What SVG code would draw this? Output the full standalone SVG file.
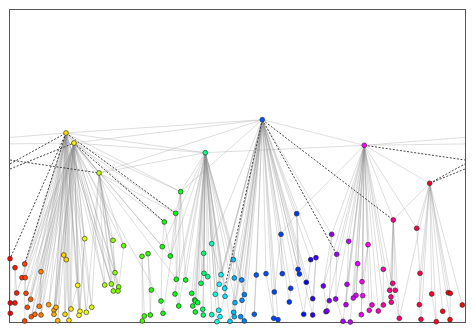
<svg xmlns="http://www.w3.org/2000/svg" width="475" height="332" viewBox="0 0 475 332">
<style>
.e line{stroke:#8c8c8c;stroke-opacity:.42;stroke-width:.7;fill:none}
.d line{stroke:#333;stroke-width:.9;stroke-dasharray:2 1.6;fill:none}
.n circle{stroke:#222;stroke-width:.6}
</style>
<rect x="0" y="0" width="475" height="332" fill="#fff"/>
<rect x="9.5" y="9.5" width="456" height="313" fill="none" stroke="#555" stroke-width="1"/>
<g id="connectors">
<g class="e">
<line x1="66" y1="133" x2="262.3" y2="119.7"/>
<line x1="74" y1="143" x2="262.3" y2="119.7"/>
<line x1="66" y1="133" x2="205.3" y2="152.7"/>
<line x1="74" y1="143" x2="205.3" y2="152.7"/>
<line x1="99" y1="173" x2="205.3" y2="152.7"/>
<line x1="99" y1="173" x2="262.3" y2="119.7"/>
<line x1="205.3" y1="152.7" x2="364.3" y2="145.3"/>
<line x1="262.3" y1="119.7" x2="364.3" y2="145.3"/>
<line x1="364.3" y1="145.3" x2="429.7" y2="183.3"/>
<line x1="10" y1="137.4" x2="66" y2="133"/>
<line x1="364.3" y1="145.3" x2="465" y2="137.4"/>
<line x1="10" y1="143.9" x2="74" y2="143"/>
<line x1="364.3" y1="145.3" x2="465" y2="143.9"/>
<line x1="66" y1="133" x2="180.7" y2="191.7"/>
<line x1="74" y1="143" x2="180.7" y2="191.7"/>
<line x1="180.7" y1="191.7" x2="262.3" y2="119.7"/>
<line x1="180.7" y1="191.7" x2="205.3" y2="152.7"/>
<line x1="66" y1="133" x2="99" y2="173"/>
<line x1="74" y1="143" x2="99" y2="173"/>
<!-- left fan -->
<line x1="66" y1="133" x2="24.7" y2="264"/><line x1="74" y1="143" x2="24.7" y2="264"/>
<line x1="66" y1="133" x2="22" y2="277.7"/><line x1="74" y1="143" x2="22" y2="277.7"/>
<line x1="66" y1="133" x2="25.3" y2="277.7"/><line x1="74" y1="143" x2="25.3" y2="277.7"/>
<line x1="66" y1="133" x2="41" y2="271.7"/><line x1="74" y1="143" x2="41" y2="271.7"/>
<line x1="66" y1="133" x2="63.7" y2="255"/><line x1="74" y1="143" x2="63.7" y2="255"/>
<line x1="66" y1="133" x2="66.3" y2="259.7"/><line x1="74" y1="143" x2="66.3" y2="259.7"/>
<line x1="66" y1="133" x2="26" y2="293.3"/><line x1="74" y1="143" x2="26" y2="293.3"/>
<line x1="66" y1="133" x2="30.7" y2="299.3"/><line x1="74" y1="143" x2="30.7" y2="299.3"/>
<line x1="66" y1="133" x2="27.3" y2="307.3"/><line x1="74" y1="143" x2="27.3" y2="307.3"/>
<line x1="66" y1="133" x2="39.3" y2="306.3"/><line x1="74" y1="143" x2="39.3" y2="306.3"/>
<line x1="66" y1="133" x2="48.7" y2="304.7"/><line x1="74" y1="143" x2="48.7" y2="304.7"/>
<line x1="66" y1="133" x2="54" y2="310"/><line x1="74" y1="143" x2="54" y2="310"/>
<line x1="66" y1="133" x2="56" y2="307.3"/><line x1="74" y1="143" x2="56" y2="307.3"/>
<line x1="66" y1="133" x2="77.7" y2="285.3"/><line x1="74" y1="143" x2="77.7" y2="285.3"/>
<line x1="66" y1="133" x2="31.3" y2="316.7"/><line x1="74" y1="143" x2="31.3" y2="316.7"/>
<line x1="66" y1="133" x2="35" y2="314.3"/><line x1="74" y1="143" x2="35" y2="314.3"/>
<line x1="66" y1="133" x2="41" y2="315"/><line x1="74" y1="143" x2="41" y2="315"/>
<line x1="66" y1="133" x2="54" y2="314.3"/><line x1="74" y1="143" x2="54" y2="314.3"/>
<line x1="66" y1="133" x2="65" y2="314.3"/><line x1="74" y1="143" x2="65" y2="314.3"/>
<line x1="66" y1="133" x2="71" y2="309"/><line x1="74" y1="143" x2="71" y2="309"/>
<line x1="66" y1="133" x2="80" y2="311.3"/><line x1="74" y1="143" x2="80" y2="311.3"/>
<line x1="66" y1="133" x2="79" y2="315.3"/><line x1="74" y1="143" x2="79" y2="315.3"/>
<line x1="66" y1="133" x2="86.3" y2="312.3"/><line x1="74" y1="143" x2="86.3" y2="312.3"/>
<line x1="66" y1="133" x2="91.7" y2="307.3"/><line x1="74" y1="143" x2="91.7" y2="307.3"/>
<line x1="66" y1="133" x2="57.7" y2="320.7"/><line x1="74" y1="143" x2="57.7" y2="320.7"/>
<line x1="66" y1="133" x2="69" y2="320.3"/><line x1="74" y1="143" x2="69" y2="320.3"/>
<line x1="66" y1="133" x2="84.7" y2="238.7"/><line x1="74" y1="143" x2="84.7" y2="238.7"/>
<line x1="10" y1="258.7" x2="10.3" y2="303"/><line x1="10.3" y1="303" x2="10.3" y2="313.3"/>
<line x1="15" y1="267.7" x2="15" y2="303"/><line x1="15" y1="267.7" x2="16.7" y2="293"/>
<line x1="24.7" y1="264" x2="24.7" y2="321"/><line x1="22" y1="277.7" x2="16.7" y2="293"/>
<line x1="25.3" y1="277.7" x2="26" y2="293.3"/><line x1="41" y1="271.7" x2="41" y2="315"/>
<line x1="41" y1="271.7" x2="39.3" y2="306.3"/><line x1="63.7" y1="255" x2="65" y2="314.3"/>
<line x1="66.3" y1="259.7" x2="69" y2="320.3"/><line x1="84.7" y1="238.7" x2="80" y2="311.3"/>
<line x1="84.7" y1="238.7" x2="79" y2="315.3"/><line x1="77.7" y1="285.3" x2="71" y2="309"/>
<!-- C fan -->
<line x1="99" y1="173" x2="113" y2="240.3"/><line x1="74" y1="143" x2="113" y2="240.3"/>
<line x1="99" y1="173" x2="123.7" y2="245.7"/><line x1="74" y1="143" x2="123.7" y2="245.7"/>
<line x1="99" y1="173" x2="115" y2="272.7"/><line x1="74" y1="143" x2="115" y2="272.7"/>
<line x1="99" y1="173" x2="104.7" y2="285"/><line x1="74" y1="143" x2="104.7" y2="285"/>
<line x1="99" y1="173" x2="111.3" y2="284"/><line x1="74" y1="143" x2="111.3" y2="284"/>
<line x1="99" y1="173" x2="118.7" y2="287"/><line x1="74" y1="143" x2="118.7" y2="287"/>
<line x1="99" y1="173" x2="113.3" y2="291"/><line x1="66" y1="133" x2="113.3" y2="291"/>
<line x1="99" y1="173" x2="118" y2="291"/><line x1="66" y1="133" x2="118" y2="291"/>
<line x1="99" y1="173" x2="86.3" y2="312.3"/><line x1="99" y1="173" x2="91.7" y2="307.3"/>
<line x1="66" y1="133" x2="111.3" y2="284"/><line x1="66" y1="133" x2="104.7" y2="285"/>
<line x1="113" y1="240.3" x2="115" y2="272.7"/><line x1="123.7" y1="245.7" x2="118.7" y2="287"/>
<line x1="115" y1="272.7" x2="113.3" y2="291"/>
<!-- green small cluster -->
<line x1="142" y1="256.3" x2="142.3" y2="321"/><line x1="142" y1="256.3" x2="144.3" y2="316"/>
<line x1="148" y1="253.7" x2="151.3" y2="290"/><line x1="151.3" y1="290" x2="150.3" y2="315"/>
<line x1="148" y1="253.7" x2="150.3" y2="315"/>
<!-- green under 49 -->
<line x1="180.7" y1="191.7" x2="175.7" y2="213.3"/>
<line x1="74" y1="143" x2="175.7" y2="213.3"/><line x1="66" y1="133" x2="164.3" y2="222"/>
<line x1="99" y1="173" x2="175.7" y2="213.3"/><line x1="99" y1="173" x2="164.3" y2="222"/>
<line x1="74" y1="143" x2="162.3" y2="246.7"/><line x1="66" y1="133" x2="170.3" y2="256"/>
<line x1="74" y1="143" x2="176.3" y2="279.3"/><line x1="66" y1="133" x2="161" y2="301"/>
<line x1="164.3" y1="222" x2="162.3" y2="246.7"/><line x1="162.3" y1="246.7" x2="161" y2="301"/>
<line x1="161" y1="301" x2="163" y2="313.3"/><line x1="175.7" y1="213.3" x2="170.3" y2="256"/>
<line x1="175.7" y1="213.3" x2="176.3" y2="279.3"/><line x1="176.3" y1="279.3" x2="175" y2="294"/>
<line x1="175" y1="294" x2="178.7" y2="306"/><line x1="180.7" y1="191.7" x2="185.7" y2="280"/>
<line x1="180.7" y1="191.7" x2="176.3" y2="279.3"/><line x1="164.3" y1="222" x2="170.3" y2="256"/>
<line x1="180.7" y1="191.7" x2="163" y2="313.3"/><line x1="180.7" y1="191.7" x2="178.7" y2="306"/>
<!-- D fan -->
<line x1="205.3" y1="152.7" x2="176.3" y2="279.3"/><line x1="205.3" y1="152.7" x2="185.7" y2="280"/>
<line x1="205.3" y1="152.7" x2="175" y2="294"/><line x1="205.3" y1="152.7" x2="178.7" y2="306"/>
<line x1="205.3" y1="152.7" x2="191.7" y2="293.3"/><line x1="205.3" y1="152.7" x2="194.7" y2="300"/>
<line x1="205.3" y1="152.7" x2="195.3" y2="301"/><line x1="205.3" y1="152.7" x2="197.7" y2="302.7"/>
<line x1="205.3" y1="152.7" x2="192.7" y2="306"/><line x1="205.3" y1="152.7" x2="195.3" y2="312"/>
<line x1="205.3" y1="152.7" x2="162.3" y2="246.7"/><line x1="205.3" y1="152.7" x2="170.3" y2="256"/>
<line x1="205.3" y1="152.7" x2="203.7" y2="253.3"/><line x1="205.3" y1="152.7" x2="211.7" y2="243.7"/>
<line x1="205.3" y1="152.7" x2="204" y2="273.3"/><line x1="205.3" y1="152.7" x2="207.7" y2="276.7"/>
<line x1="205.3" y1="152.7" x2="201" y2="283.3"/><line x1="205.3" y1="152.7" x2="202.7" y2="309.3"/>
<line x1="205.3" y1="152.7" x2="203.3" y2="315"/><line x1="205.3" y1="152.7" x2="211.7" y2="314.7"/>
<line x1="205.3" y1="152.7" x2="215.3" y2="294.3"/><line x1="205.3" y1="152.7" x2="219.3" y2="284.3"/>
<line x1="205.3" y1="152.7" x2="221" y2="274.7"/><line x1="205.3" y1="152.7" x2="224.7" y2="288.3"/>
<line x1="205.3" y1="152.7" x2="225" y2="296.3"/><line x1="205.3" y1="152.7" x2="218.7" y2="310.3"/>
<line x1="205.3" y1="152.7" x2="220" y2="316.7"/><line x1="205.3" y1="152.7" x2="217" y2="321.7"/>
<line x1="205.3" y1="152.7" x2="230" y2="321.3"/><line x1="205.3" y1="152.7" x2="233.3" y2="259.7"/>
<line x1="205.3" y1="152.7" x2="234.3" y2="278"/><line x1="205.3" y1="152.7" x2="235" y2="302.7"/>
<line x1="205.3" y1="152.7" x2="241.7" y2="280"/><line x1="205.3" y1="152.7" x2="244.3" y2="294.7"/>
<line x1="203.7" y1="253.3" x2="204" y2="273.3"/><line x1="211.7" y1="243.7" x2="221" y2="274.7"/>
<line x1="203.7" y1="253.3" x2="201" y2="283.3"/>
<!-- E fan -->
<line x1="262.3" y1="119.7" x2="221" y2="274.7"/><line x1="262.3" y1="119.7" x2="219.3" y2="284.3"/>
<line x1="262.3" y1="119.7" x2="225" y2="296.3"/><line x1="262.3" y1="119.7" x2="220" y2="316.7"/>
<line x1="262.3" y1="119.7" x2="211.7" y2="243.7"/><line x1="262.3" y1="119.7" x2="215.3" y2="294.3"/>
<line x1="262.3" y1="119.7" x2="230" y2="321.3"/><line x1="262.3" y1="119.7" x2="233.3" y2="259.7"/>
<line x1="262.3" y1="119.7" x2="234.3" y2="278"/><line x1="262.3" y1="119.7" x2="241.7" y2="280"/>
<line x1="262.3" y1="119.7" x2="244.3" y2="294.7"/><line x1="262.3" y1="119.7" x2="242" y2="300.3"/>
<line x1="262.3" y1="119.7" x2="235" y2="302.7"/><line x1="262.3" y1="119.7" x2="233.7" y2="312.3"/>
<line x1="262.3" y1="119.7" x2="234.3" y2="316.7"/><line x1="262.3" y1="119.7" x2="240.7" y2="316.7"/>
<line x1="262.3" y1="119.7" x2="244.3" y2="321"/><line x1="262.3" y1="119.7" x2="254.3" y2="314.3"/>
<line x1="262.3" y1="119.7" x2="256.3" y2="275"/><line x1="262.3" y1="119.7" x2="266" y2="273.7"/>
<line x1="262.3" y1="119.7" x2="281" y2="234.3"/><line x1="262.3" y1="119.7" x2="282.3" y2="273.7"/>
<line x1="262.3" y1="119.7" x2="274.3" y2="292"/><line x1="262.3" y1="119.7" x2="273.7" y2="318.3"/>
<line x1="262.3" y1="119.7" x2="278" y2="319.7"/><line x1="262.3" y1="119.7" x2="298" y2="269.3"/>
<line x1="262.3" y1="119.7" x2="299.3" y2="274"/><line x1="262.3" y1="119.7" x2="290.7" y2="288.3"/>
<line x1="262.3" y1="119.7" x2="289.3" y2="302"/><line x1="262.3" y1="119.7" x2="306.3" y2="282.3"/>
<line x1="262.3" y1="119.7" x2="310.7" y2="259.7"/><line x1="262.3" y1="119.7" x2="316" y2="257.7"/>
<line x1="262.3" y1="119.7" x2="312.7" y2="298.7"/><line x1="262.3" y1="119.7" x2="303.7" y2="314.3"/>
<line x1="262.3" y1="119.7" x2="312.7" y2="315"/><line x1="262.3" y1="119.7" x2="331.7" y2="234.3"/>
<line x1="262.3" y1="119.7" x2="296.7" y2="213.7"/>
<line x1="233.3" y1="259.7" x2="234.3" y2="278"/><line x1="234.3" y1="278" x2="233.7" y2="312.3"/>
<line x1="241.7" y1="280" x2="244.3" y2="294.7"/><line x1="281" y1="234.3" x2="296.7" y2="213.7"/>
<line x1="296.7" y1="213.7" x2="364.3" y2="145.3"/><line x1="281" y1="234.3" x2="282.3" y2="273.7"/>
<line x1="281" y1="234.3" x2="274.3" y2="292"/><line x1="296.7" y1="213.7" x2="298" y2="269.3"/>
<line x1="296.7" y1="213.7" x2="299.3" y2="274"/><line x1="256.3" y1="275" x2="254.3" y2="314.3"/>
<line x1="266" y1="273.7" x2="273.7" y2="318.3"/><line x1="310.7" y1="259.7" x2="303.7" y2="314.3"/>
<line x1="316" y1="257.7" x2="312.7" y2="298.7"/><line x1="316" y1="257.7" x2="312.7" y2="315"/>
<line x1="290.7" y1="288.3" x2="289.3" y2="302"/>
<!-- F fan -->
<line x1="364.3" y1="145.3" x2="331.7" y2="234.3"/><line x1="364.3" y1="145.3" x2="348.7" y2="241.3"/>
<line x1="364.3" y1="145.3" x2="336.7" y2="254.3"/><line x1="364.3" y1="145.3" x2="323.3" y2="286"/>
<line x1="364.3" y1="145.3" x2="335.7" y2="299"/><line x1="364.3" y1="145.3" x2="326" y2="311.7"/>
<line x1="364.3" y1="145.3" x2="343" y2="321.3"/><line x1="364.3" y1="145.3" x2="350.3" y2="322"/>
<line x1="364.3" y1="145.3" x2="368" y2="244.7"/><line x1="364.3" y1="145.3" x2="357.7" y2="263.7"/>
<line x1="364.3" y1="145.3" x2="347" y2="284.3"/><line x1="364.3" y1="145.3" x2="362" y2="281.7"/>
<line x1="364.3" y1="145.3" x2="356" y2="295.3"/><line x1="364.3" y1="145.3" x2="353.3" y2="298"/>
<line x1="364.3" y1="145.3" x2="362.7" y2="295.7"/><line x1="364.3" y1="145.3" x2="346" y2="304.7"/>
<line x1="364.3" y1="145.3" x2="372" y2="305"/><line x1="364.3" y1="145.3" x2="369.3" y2="310.3"/>
<line x1="364.3" y1="145.3" x2="378.3" y2="311"/><line x1="364.3" y1="145.3" x2="383.3" y2="305"/>
<line x1="364.3" y1="145.3" x2="383.3" y2="269.3"/><line x1="364.3" y1="145.3" x2="361.3" y2="314.7"/>
<line x1="364.3" y1="145.3" x2="393.3" y2="220"/><line x1="364.3" y1="145.3" x2="416.7" y2="228.3"/>
<line x1="364.3" y1="145.3" x2="399.3" y2="318.3"/><line x1="364.3" y1="145.3" x2="391.3" y2="302.3"/>
<line x1="331.7" y1="234.3" x2="323.3" y2="286"/><line x1="331.7" y1="234.3" x2="329.3" y2="300.7"/>
<line x1="323.3" y1="286" x2="327" y2="311"/><line x1="348.7" y1="241.3" x2="347" y2="284.3"/>
<line x1="347" y1="284.3" x2="346" y2="304.7"/><line x1="336.7" y1="254.3" x2="335.7" y2="299"/>
<line x1="335.7" y1="299" x2="343" y2="321.3"/><line x1="368" y1="244.7" x2="362" y2="281.7"/>
<line x1="368" y1="244.7" x2="362.7" y2="295.7"/><line x1="357.7" y1="263.7" x2="356" y2="295.3"/>
<line x1="357.7" y1="263.7" x2="353.3" y2="298"/><line x1="383.3" y1="269.3" x2="383.3" y2="305"/>
<line x1="362" y1="281.7" x2="361.3" y2="314.7"/>
<!-- pink + G fan -->
<line x1="429.7" y1="183.3" x2="393.3" y2="220"/>
<line x1="393.3" y1="220" x2="392.7" y2="283.3"/><line x1="393.3" y1="220" x2="389.7" y2="290.3"/>
<line x1="393.3" y1="220" x2="395.3" y2="290.3"/><line x1="393.3" y1="220" x2="391" y2="297"/>
<line x1="393.3" y1="220" x2="391.3" y2="302.3"/><line x1="393.3" y1="220" x2="399.3" y2="318.3"/>
<line x1="429.7" y1="183.3" x2="416.7" y2="228.3"/><line x1="429.7" y1="183.3" x2="420" y2="273.3"/>
<line x1="429.7" y1="183.3" x2="419.3" y2="304.7"/><line x1="429.7" y1="183.3" x2="421" y2="319.3"/>
<line x1="429.7" y1="183.3" x2="431.7" y2="294"/><line x1="429.7" y1="183.3" x2="436.3" y2="321.7"/>
<line x1="429.7" y1="183.3" x2="448.3" y2="292.7"/><line x1="429.7" y1="183.3" x2="450.3" y2="293.3"/>
<line x1="429.7" y1="183.3" x2="442.7" y2="311.3"/><line x1="429.7" y1="183.3" x2="450" y2="319.7"/>
<line x1="429.7" y1="183.3" x2="462.3" y2="305"/><line x1="429.7" y1="183.3" x2="399.3" y2="318.3"/>
<line x1="416.7" y1="228.3" x2="420" y2="273.3"/><line x1="420" y1="273.3" x2="419.3" y2="304.7"/>
<line x1="419.3" y1="304.7" x2="421" y2="319.3"/><line x1="431.7" y1="294" x2="436.3" y2="321.7"/>
<line x1="450.3" y1="293.3" x2="450" y2="319.7"/>
</g>
<g class="d">
<line x1="10" y1="163.9" x2="66" y2="133"/>
<line x1="429.7" y1="183.3" x2="465" y2="163.9"/>
<line x1="10" y1="169" x2="74" y2="143"/>
<line x1="429.7" y1="183.3" x2="465" y2="169"/>
<line x1="10" y1="160" x2="99" y2="173"/>
<line x1="364.3" y1="145.3" x2="465" y2="160"/>
<line x1="66" y1="133" x2="10" y2="258.7"/>
<line x1="66" y1="133" x2="24.7" y2="264"/>
<line x1="74" y1="143" x2="164.3" y2="222"/>
<line x1="66" y1="133" x2="175.7" y2="213.3"/>
<line x1="262.3" y1="119.7" x2="224.7" y2="288.3"/>
<line x1="262.3" y1="119.7" x2="393.3" y2="220"/>
<line x1="262.3" y1="119.7" x2="336.7" y2="254.3"/>
</g>
</g>
<g class="n">
<g id="n1"><circle cx="10" cy="258.7" r="2.4" fill="hsl(0,100%,50%)"/></g>
<g id="n2"><circle cx="15" cy="267.7" r="2.4" fill="hsl(5,100%,50%)"/></g>
<g id="n3"><circle cx="24.7" cy="264" r="2.4" fill="hsl(15,100%,50%)"/></g>
<g id="n4"><circle cx="22" cy="277.7" r="2.4" fill="hsl(12,100%,50%)"/></g>
<g id="n5"><circle cx="25.3" cy="277.7" r="2.4" fill="hsl(15,100%,50%)"/></g>
<g id="n6"><circle cx="41" cy="271.7" r="2.4" fill="hsl(30,100%,50%)"/></g>
<g id="n7"><circle cx="63.7" cy="255" r="2.4" fill="hsl(48,100%,50%)"/></g>
<g id="n8"><circle cx="66.3" cy="259.7" r="2.4" fill="hsl(50,100%,50%)"/></g>
<g id="n9"><circle cx="16.7" cy="293" r="2.4" fill="hsl(7,100%,50%)"/></g>
<g id="n10"><circle cx="26" cy="293.3" r="2.4" fill="hsl(16,100%,50%)"/></g>
<g id="n11"><circle cx="30.7" cy="299.3" r="2.4" fill="hsl(21,100%,50%)"/></g>
<g id="n12"><circle cx="10.3" cy="303" r="2.4" fill="hsl(0,100%,50%)"/></g>
<g id="n13"><circle cx="15" cy="303" r="2.4" fill="hsl(5,100%,50%)"/></g>
<g id="n14"><circle cx="27.3" cy="307.3" r="2.4" fill="hsl(17,100%,50%)"/></g>
<g id="n15"><circle cx="39.3" cy="306.3" r="2.4" fill="hsl(28,100%,50%)"/></g>
<g id="n16"><circle cx="48.7" cy="304.7" r="2.4" fill="hsl(36,100%,50%)"/></g>
<g id="n17"><circle cx="54" cy="310" r="2.4" fill="hsl(40,100%,50%)"/></g>
<g id="n18"><circle cx="56" cy="307.3" r="2.4" fill="hsl(42,100%,50%)"/></g>
<g id="n19"><circle cx="77.7" cy="285.3" r="2.4" fill="hsl(58,100%,50%)"/></g>
<g id="n20"><circle cx="10.3" cy="313.3" r="2.4" fill="hsl(0,100%,50%)"/></g>
<g id="n21"><circle cx="31.3" cy="316.7" r="2.4" fill="hsl(21,100%,50%)"/></g>
<g id="n22"><circle cx="35" cy="314.3" r="2.4" fill="hsl(25,100%,50%)"/></g>
<g id="n23"><circle cx="41" cy="315" r="2.4" fill="hsl(30,100%,50%)"/></g>
<g id="n24"><circle cx="54" cy="314.3" r="2.4" fill="hsl(40,100%,50%)"/></g>
<g id="n25"><circle cx="65" cy="314.3" r="2.4" fill="hsl(49,100%,50%)"/></g>
<g id="n26"><circle cx="71" cy="309" r="2.4" fill="hsl(54,100%,50%)"/></g>
<g id="n27"><circle cx="80" cy="311.3" r="2.4" fill="hsl(60,100%,50%)"/></g>
<g id="n28"><circle cx="79" cy="315.3" r="2.4" fill="hsl(59,100%,50%)"/></g>
<g id="n29"><circle cx="86.3" cy="312.3" r="2.4" fill="hsl(65,100%,50%)"/></g>
<g id="n30"><circle cx="91.7" cy="307.3" r="2.4" fill="hsl(69,100%,50%)"/></g>
<g id="n31"><circle cx="24.7" cy="321" r="2.4" fill="hsl(15,100%,50%)"/></g>
<g id="n32"><circle cx="57.7" cy="320.7" r="2.4" fill="hsl(43,100%,50%)"/></g>
<g id="n33"><circle cx="69" cy="320.3" r="2.4" fill="hsl(52,100%,50%)"/></g>
<g id="hubA"><circle cx="66" cy="133" r="2.4" fill="hsl(52,100%,50%)"/></g>
<g id="hubB"><circle cx="74" cy="143" r="2.4" fill="hsl(57,100%,50%)"/></g>
<g id="hubC"><circle cx="99" cy="173" r="2.4" fill="hsl(74,100%,50%)"/></g>
<g id="n34"><circle cx="84.7" cy="238.7" r="2.4" fill="hsl(66,100%,50%)"/></g>
<g id="n35"><circle cx="113" cy="240.3" r="2.4" fill="hsl(86,100%,50%)"/></g>
<g id="n36"><circle cx="123.7" cy="245.7" r="2.4" fill="hsl(94,100%,50%)"/></g>
<g id="n37"><circle cx="115" cy="272.7" r="2.4" fill="hsl(88,100%,50%)"/></g>
<g id="n38"><circle cx="104.7" cy="285" r="2.4" fill="hsl(79,100%,50%)"/></g>
<g id="n39"><circle cx="111.3" cy="284" r="2.4" fill="hsl(84,100%,50%)"/></g>
<g id="n40"><circle cx="118.7" cy="287" r="2.4" fill="hsl(90,100%,50%)"/></g>
<g id="n41"><circle cx="113.3" cy="291" r="2.4" fill="hsl(86,100%,50%)"/></g>
<g id="n42"><circle cx="118" cy="291" r="2.4" fill="hsl(90,100%,50%)"/></g>
<g id="n43"><circle cx="142" cy="256.3" r="2.4" fill="hsl(106,100%,50%)"/></g>
<g id="n44"><circle cx="148" cy="253.7" r="2.4" fill="hsl(109,100%,50%)"/></g>
<g id="n45"><circle cx="151.3" cy="290" r="2.4" fill="hsl(111,100%,50%)"/></g>
<g id="n46"><circle cx="144.3" cy="316" r="2.4" fill="hsl(107,100%,50%)"/></g>
<g id="n47"><circle cx="150.3" cy="315" r="2.4" fill="hsl(110,100%,50%)"/></g>
<g id="n48"><circle cx="142.3" cy="321" r="2.4" fill="hsl(106,100%,50%)"/></g>
<g id="n49"><circle cx="180.7" cy="191.7" r="2.4" fill="hsl(124,100%,50%)"/></g>
<g id="n50"><circle cx="175.7" cy="213.3" r="2.4" fill="hsl(122,100%,50%)"/></g>
<g id="n51"><circle cx="164.3" cy="222" r="2.4" fill="hsl(117,100%,50%)"/></g>
<g id="n52"><circle cx="162.3" cy="246.7" r="2.4" fill="hsl(116,100%,50%)"/></g>
<g id="n53"><circle cx="170.3" cy="256" r="2.4" fill="hsl(120,100%,50%)"/></g>
<g id="n54"><circle cx="161" cy="301" r="2.4" fill="hsl(116,100%,50%)"/></g>
<g id="n55"><circle cx="163" cy="313.3" r="2.4" fill="hsl(117,100%,50%)"/></g>
<g id="n56"><circle cx="176.3" cy="279.3" r="2.4" fill="hsl(122,100%,50%)"/></g>
<g id="n57"><circle cx="185.7" cy="280" r="2.4" fill="hsl(126,100%,50%)"/></g>
<g id="n58"><circle cx="175" cy="294" r="2.4" fill="hsl(122,100%,50%)"/></g>
<g id="n59"><circle cx="178.7" cy="306" r="2.4" fill="hsl(123,100%,50%)"/></g>
<g id="n60"><circle cx="191.7" cy="293.3" r="2.4" fill="hsl(128,100%,50%)"/></g>
<g id="n61"><circle cx="194.7" cy="300" r="2.4" fill="hsl(129,100%,50%)"/></g>
<g id="n62"><circle cx="195.3" cy="301" r="2.4" fill="hsl(129,100%,50%)"/></g>
<g id="n63"><circle cx="197.7" cy="302.7" r="2.4" fill="hsl(132,100%,50%)"/></g>
<g id="n64"><circle cx="192.7" cy="306" r="2.4" fill="hsl(128,100%,50%)"/></g>
<g id="n65"><circle cx="195.3" cy="312" r="2.4" fill="hsl(129,100%,50%)"/></g>
<g id="hubD"><circle cx="205.3" cy="152.7" r="2.4" fill="hsl(152,100%,50%)"/></g>
<g id="n66"><circle cx="203.7" cy="253.3" r="2.4" fill="hsl(147,100%,50%)"/></g>
<g id="n67"><circle cx="211.7" cy="243.7" r="2.4" fill="hsl(164,100%,50%)"/></g>
<g id="n68"><circle cx="204" cy="273.3" r="2.4" fill="hsl(147,100%,50%)"/></g>
<g id="n69"><circle cx="207.7" cy="276.7" r="2.4" fill="hsl(155,100%,50%)"/></g>
<g id="n70"><circle cx="201" cy="283.3" r="2.4" fill="hsl(140,100%,50%)"/></g>
<g id="n71"><circle cx="202.7" cy="309.3" r="2.4" fill="hsl(143,100%,50%)"/></g>
<g id="n72"><circle cx="203.3" cy="315" r="2.4" fill="hsl(145,100%,50%)"/></g>
<g id="n73"><circle cx="211.7" cy="314.7" r="2.4" fill="hsl(164,100%,50%)"/></g>
<g id="n74"><circle cx="215.3" cy="294.3" r="2.4" fill="hsl(171,100%,50%)"/></g>
<g id="n75"><circle cx="219.3" cy="284.3" r="2.4" fill="hsl(179,100%,50%)"/></g>
<g id="n76"><circle cx="221" cy="274.7" r="2.4" fill="hsl(181,100%,50%)"/></g>
<g id="n77"><circle cx="224.7" cy="288.3" r="2.4" fill="hsl(185,100%,50%)"/></g>
<g id="n78"><circle cx="225" cy="296.3" r="2.4" fill="hsl(186,100%,50%)"/></g>
<g id="n79"><circle cx="218.7" cy="310.3" r="2.4" fill="hsl(178,100%,50%)"/></g>
<g id="n80"><circle cx="220" cy="316.7" r="2.4" fill="hsl(180,100%,50%)"/></g>
<g id="n81"><circle cx="217" cy="321.7" r="2.4" fill="hsl(174,100%,50%)"/></g>
<g id="n82"><circle cx="230" cy="321.3" r="2.4" fill="hsl(192,100%,50%)"/></g>
<g id="n83"><circle cx="233.3" cy="259.7" r="2.4" fill="hsl(195,100%,50%)"/></g>
<g id="n84"><circle cx="234.3" cy="278" r="2.4" fill="hsl(197,100%,50%)"/></g>
<g id="n85"><circle cx="241.7" cy="280" r="2.4" fill="hsl(207,100%,50%)"/></g>
<g id="n86"><circle cx="244.3" cy="294.7" r="2.4" fill="hsl(210,100%,50%)"/></g>
<g id="n87"><circle cx="242" cy="300.3" r="2.4" fill="hsl(208,100%,50%)"/></g>
<g id="n88"><circle cx="235" cy="302.7" r="2.4" fill="hsl(198,100%,50%)"/></g>
<g id="n89"><circle cx="233.7" cy="312.3" r="2.4" fill="hsl(196,100%,50%)"/></g>
<g id="n90"><circle cx="234.3" cy="316.7" r="2.4" fill="hsl(197,100%,50%)"/></g>
<g id="n91"><circle cx="240.7" cy="316.7" r="2.4" fill="hsl(206,100%,50%)"/></g>
<g id="n92"><circle cx="244.3" cy="321" r="2.4" fill="hsl(210,100%,50%)"/></g>
<g id="hubE"><circle cx="262.3" cy="119.7" r="2.4" fill="hsl(220,100%,50%)"/></g>
<g id="n93"><circle cx="254.3" cy="314.3" r="2.4" fill="hsl(217,100%,50%)"/></g>
<g id="n94"><circle cx="256.3" cy="275" r="2.4" fill="hsl(218,100%,50%)"/></g>
<g id="n95"><circle cx="266" cy="273.7" r="2.4" fill="hsl(221,100%,50%)"/></g>
<g id="n96"><circle cx="281" cy="234.3" r="2.4" fill="hsl(224,100%,50%)"/></g>
<g id="n97"><circle cx="282.3" cy="273.7" r="2.4" fill="hsl(225,100%,50%)"/></g>
<g id="n98"><circle cx="274.3" cy="292" r="2.4" fill="hsl(223,100%,50%)"/></g>
<g id="n99"><circle cx="273.7" cy="318.3" r="2.4" fill="hsl(223,100%,50%)"/></g>
<g id="n100"><circle cx="278" cy="319.7" r="2.4" fill="hsl(224,100%,50%)"/></g>
<g id="n101"><circle cx="296.7" cy="213.7" r="2.4" fill="hsl(227,100%,50%)"/></g>
<g id="n102"><circle cx="298" cy="269.3" r="2.4" fill="hsl(228,100%,50%)"/></g>
<g id="n103"><circle cx="299.3" cy="274" r="2.4" fill="hsl(228,100%,50%)"/></g>
<g id="n104"><circle cx="290.7" cy="288.3" r="2.4" fill="hsl(226,100%,50%)"/></g>
<g id="n105"><circle cx="289.3" cy="302" r="2.4" fill="hsl(226,100%,50%)"/></g>
<g id="n106"><circle cx="306.3" cy="282.3" r="2.4" fill="hsl(239,100%,50%)"/></g>
<g id="n107"><circle cx="310.7" cy="259.7" r="2.4" fill="hsl(247,100%,50%)"/></g>
<g id="n108"><circle cx="316" cy="257.7" r="2.4" fill="hsl(254,100%,50%)"/></g>
<g id="n109"><circle cx="312.7" cy="298.7" r="2.4" fill="hsl(251,100%,50%)"/></g>
<g id="n110"><circle cx="303.7" cy="314.3" r="2.4" fill="hsl(235,100%,50%)"/></g>
<g id="n111"><circle cx="312.7" cy="315" r="2.4" fill="hsl(251,100%,50%)"/></g>
<g id="n112"><circle cx="331.7" cy="234.3" r="2.4" fill="hsl(272,100%,50%)"/></g>
<g id="n113"><circle cx="348.7" cy="241.3" r="2.4" fill="hsl(286,100%,50%)"/></g>
<g id="n114"><circle cx="336.7" cy="254.3" r="2.4" fill="hsl(276,100%,50%)"/></g>
<g id="n115"><circle cx="323.3" cy="286" r="2.4" fill="hsl(263,100%,50%)"/></g>
<g id="n116"><circle cx="329.3" cy="300.7" r="2.4" fill="hsl(269,100%,50%)"/></g>
<g id="n117"><circle cx="335.7" cy="299" r="2.4" fill="hsl(275,100%,50%)"/></g>
<g id="n118"><circle cx="326" cy="311.7" r="2.4" fill="hsl(266,100%,50%)"/></g>
<g id="n119"><circle cx="327" cy="311" r="2.4" fill="hsl(267,100%,50%)"/></g>
<g id="n120"><circle cx="343" cy="321.3" r="2.4" fill="hsl(281,100%,50%)"/></g>
<g id="n121"><circle cx="350.3" cy="322" r="2.4" fill="hsl(287,100%,50%)"/></g>
<g id="hubF"><circle cx="364.3" cy="145.3" r="2.4" fill="hsl(302,100%,50%)"/></g>
<g id="n122"><circle cx="368" cy="244.7" r="2.4" fill="hsl(306,100%,50%)"/></g>
<g id="n123"><circle cx="357.7" cy="263.7" r="2.4" fill="hsl(295,100%,50%)"/></g>
<g id="n124"><circle cx="347" cy="284.3" r="2.4" fill="hsl(284,100%,50%)"/></g>
<g id="n125"><circle cx="362" cy="281.7" r="2.4" fill="hsl(300,100%,50%)"/></g>
<g id="n126"><circle cx="356" cy="295.3" r="2.4" fill="hsl(293,100%,50%)"/></g>
<g id="n127"><circle cx="353.3" cy="298" r="2.4" fill="hsl(290,100%,50%)"/></g>
<g id="n128"><circle cx="362.7" cy="295.7" r="2.4" fill="hsl(301,100%,50%)"/></g>
<g id="n129"><circle cx="346" cy="304.7" r="2.4" fill="hsl(283,100%,50%)"/></g>
<g id="n130"><circle cx="372" cy="305" r="2.4" fill="hsl(310,100%,50%)"/></g>
<g id="n131"><circle cx="369.3" cy="310.3" r="2.4" fill="hsl(307,100%,50%)"/></g>
<g id="n132"><circle cx="378.3" cy="311" r="2.4" fill="hsl(316,100%,50%)"/></g>
<g id="n133"><circle cx="383.3" cy="305" r="2.4" fill="hsl(320,100%,50%)"/></g>
<g id="n134"><circle cx="383.3" cy="269.3" r="2.4" fill="hsl(320,100%,50%)"/></g>
<g id="n135"><circle cx="361.3" cy="314.7" r="2.4" fill="hsl(299,100%,50%)"/></g>
<g id="n136"><circle cx="393.3" cy="220" r="2.4" fill="hsl(330,100%,50%)"/></g>
<g id="n137"><circle cx="392.7" cy="283.3" r="2.4" fill="hsl(330,100%,50%)"/></g>
<g id="n138"><circle cx="389.7" cy="290.3" r="2.4" fill="hsl(327,100%,50%)"/></g>
<g id="n139"><circle cx="395.3" cy="290.3" r="2.4" fill="hsl(332,100%,50%)"/></g>
<g id="n140"><circle cx="391" cy="297" r="2.4" fill="hsl(328,100%,50%)"/></g>
<g id="n141"><circle cx="391.3" cy="302.3" r="2.4" fill="hsl(328,100%,50%)"/></g>
<g id="n142"><circle cx="399.3" cy="318.3" r="2.4" fill="hsl(334,100%,50%)"/></g>
<g id="hubG"><circle cx="429.7" cy="183.3" r="2.4" fill="hsl(349,100%,50%)"/></g>
<g id="n143"><circle cx="416.7" cy="228.3" r="2.4" fill="hsl(344,100%,50%)"/></g>
<g id="n144"><circle cx="420" cy="273.3" r="2.4" fill="hsl(345,100%,50%)"/></g>
<g id="n145"><circle cx="419.3" cy="304.7" r="2.4" fill="hsl(345,100%,50%)"/></g>
<g id="n146"><circle cx="421" cy="319.3" r="2.4" fill="hsl(345,100%,50%)"/></g>
<g id="n147"><circle cx="431.7" cy="294" r="2.4" fill="hsl(349,100%,50%)"/></g>
<g id="n148"><circle cx="436.3" cy="321.7" r="2.4" fill="hsl(351,100%,50%)"/></g>
<g id="n149"><circle cx="448.3" cy="292.7" r="2.4" fill="hsl(356,100%,50%)"/></g>
<g id="n150"><circle cx="450.3" cy="293.3" r="2.4" fill="hsl(357,100%,50%)"/></g>
<g id="n151"><circle cx="442.7" cy="311.3" r="2.4" fill="hsl(354,100%,50%)"/></g>
<g id="n152"><circle cx="450" cy="319.7" r="2.4" fill="hsl(357,100%,50%)"/></g>
<g id="n153"><circle cx="462.3" cy="305" r="2.4" fill="hsl(360,100%,50%)"/></g>
</g>
</svg>
